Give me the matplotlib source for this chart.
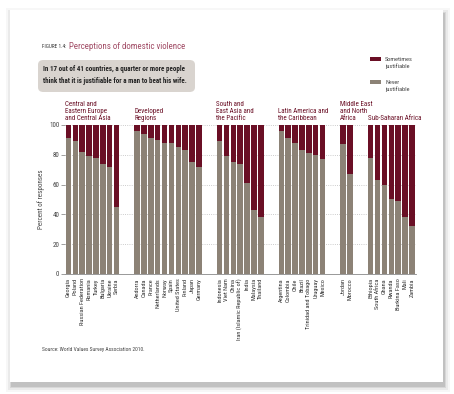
import numpy as np
import matplotlib.pyplot as plt
from matplotlib.patches import Rectangle, FancyBboxPatch

# Data (percent saying "never justifiable")
groups = ['Central and\nEastern Europe\nand Central Asia', 'Developed\nRegions',
          'South and\nEast Asia and\nthe Pacific', 'Latin America and\nthe Caribbean',
          'Middle East\nand North\nAfrica', 'Sub-Saharan Africa']
countries = [
    ['Georgia', 'Poland', 'Russian Federation', 'Romania', 'Turkey', 'Bulgaria', 'Ukraine', 'Serbia'],
    ['Andorra', 'Canada', 'France', 'Netherlands', 'Norway', 'Spain', 'United States', 'Finland', 'Japan', 'Germany'],
    ['Indonesia', 'Viet Nam', 'China', 'Iran (Islamic Republic of)', 'India', 'Malaysia', 'Thailand'],
    ['Argentina', 'Colombia', 'Chile', 'Brazil', 'Trinidad and Tobago', 'Uruguay', 'Mexico'],
    ['Jordan', 'Morocco'],
    ['Ethiopia', 'South Africa', 'Ghana', 'Rwanda', 'Burkina Faso', 'Mali', 'Zambia'],
]
never = [
    [91, 89, 82, 79, 78, 74, 72, 45],
    [96, 94, 91, 90, 88, 88, 85, 83, 75, 72],
    [89, 79, 75, 74, 61, 43, 38],
    [96, 91, 88, 83, 81, 80, 77],
    [87, 67],
    [78, 63, 60, 50, 49, 38, 32],
]

maroon = '#6a0f25'
grey = '#8c8276'
pink = '#a04a64'
plt.rcParams['font.family'] = ['Roboto Condensed', 'DejaVu Sans']

fig = plt.figure(figsize=(4.54, 3.94), dpi=100)
W, H = 454, 394

# page with a soft shadow (heavier towards bottom right)
for d, a in [(6, 0.03), (4, 0.05), (2, 0.08), (1, 0.10)]:
    fig.patches.append(Rectangle(((10 - d + 2) / W, 1 - (383 + d + 3) / H), (433 + 2 * d - 1) / W,
                                 (372 + 2 * d) / H, transform=fig.transFigure,
                                 color='black', alpha=a, lw=0, zorder=0))
fig.patches.append(Rectangle((10 / W, 1 - 382 / H), 433 / W, 372 / H,
                             transform=fig.transFigure, color='white', lw=0, zorder=1))

ax = fig.add_axes([65 / W, 1 - 274 / H, 351 / W, 149 / H])
ax.set_zorder(5)
ax.set_facecolor('none')

pos = []
labels = []
starts = []
x = 0
for names, vals in zip(countries, never):
    starts.append(x)
    for n, v in zip(names, vals):
        pos.append(x)
        labels.append(n)
        x += 1
    x += 2
vals = np.array(sum(never, []))
pos = np.array(pos)

ax.bar(pos, vals, width=0.8, color=grey, zorder=3)
ax.bar(pos, 100 - vals, bottom=vals, width=0.8, color=maroon, zorder=3)

ax.set_xlim(-0.5, pos[-1] + 0.6)
ax.set_ylim(0, 100)
ax.set_yticks([0, 20, 40, 60, 80, 100])
ax.yaxis.grid(True, linestyle=':', color='#bbbbbb', lw=0.6, zorder=0)
ax.tick_params(axis='y', labelsize=5, length=3, width=0.5, color='#777777', pad=1, labelcolor='#444444')
ax.set_xticks(pos)
ax.set_xticklabels(labels, rotation=90, fontsize=4.5, color='#333333')
ax.tick_params(axis='x', length=0, pad=3)
for s in ['top', 'right', 'left']:
    ax.spines[s].set_visible(False)
ax.spines['bottom'].set_color('#888888')
ax.spines['bottom'].set_linewidth(0.6)
ax.set_ylabel('Percent of responses', fontsize=5, labelpad=3, color='#444444')

for g, s in zip(groups, starts):
    ax.text(s - 0.45, 102, g, fontsize=5, color=maroon, ha='left', va='bottom', linespacing=1.0)

# header
fig.text(42 / W, 1 - 47 / H, 'FIGURE 1.4:', fontsize=3.8, color='#333333', va='center')
fig.text(69 / W, 1 - 46.5 / H, 'Perceptions of domestic violence', fontsize=6.4, color=pink, va='center')
fig.patches.append(FancyBboxPatch((38 / W, 1 - 92 / H), 157 / W, 32 / H, transform=fig.transFigure,
                                  boxstyle='round,pad=0,rounding_size=0.012', color='#d9d4cf', lw=0, zorder=2))
fig.text(43 / W, 1 - 75 / H, 'In 17 out of 41 countries, a quarter or more people\n'
         'think that it is justifiable for a man to beat his wife.',
         fontsize=5.0, weight='bold', color='#222222', va='center', linespacing=1.6)

# legend
fig.patches.append(Rectangle((370 / W, 1 - 61 / H), 11 / W, 4 / H, transform=fig.transFigure,
                             color=maroon, lw=0, zorder=2))
fig.text(385 / W, 1 - 63 / H, 'Sometimes\njustifiable', fontsize=4.5, color='#444444', va='center')
fig.patches.append(Rectangle((370 / W, 1 - 84 / H), 11 / W, 4 / H, transform=fig.transFigure,
                             color=grey, lw=0, zorder=2))
fig.text(385 / W, 1 - 86 / H, 'Never\njustifiable', fontsize=4.5, color='#444444', va='center')

fig.text(42 / W, 1 - 349 / H, 'Source: World Values Survey Association 2010.', fontsize=4, color='#444444',
         va='center')

fig.savefig('out.png', dpi=100)
